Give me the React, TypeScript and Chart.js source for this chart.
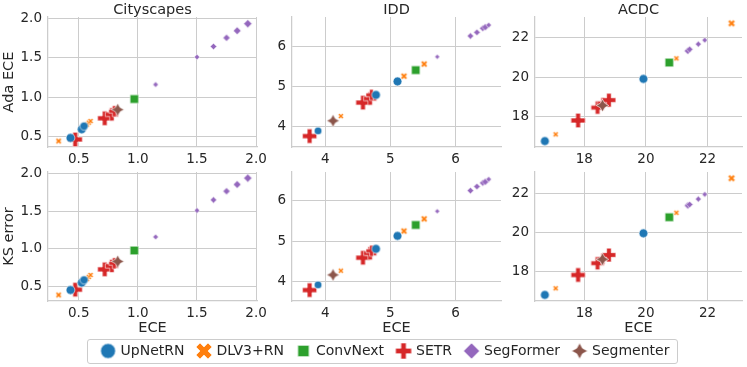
import React, { useEffect, useRef } from 'react';
import { Chart, registerables } from 'chart.js';

Chart.register(...registerables);

const FONT = '"DejaVu Sans", sans-serif';
const TEXT = '#262626';
const GRID = '#cccccc';
const MARKER_SCALE = 1.1;

const MODELS = ['UpNetRN', 'DLV3+RN', 'ConvNext', 'SETR', 'SegFormer', 'Segmenter'];
const COLORS = ['#1f77b4', '#ff7f0e', '#2ca02c', '#d62728', '#9467bd', '#8c564b'];
const SHAPES = ['o', 'X', 's', 'P', 'D', 'star'];

const DATASET_NAMES = ['Cityscapes', 'IDD', 'ACDC'];
const ROW_LABELS = ['Ada ECE', 'KS error'];
const X_LABEL = 'ECE';

// ---- Cityscapes ----
const cityModel = ['UpNetRN', 'UpNetRN', 'UpNetRN', 'DLV3+RN', 'DLV3+RN', 'DLV3+RN', 'DLV3+RN', 'ConvNext', 'SETR', 'SETR', 'SETR', 'SETR', 'SegFormer', 'SegFormer', 'SegFormer', 'SegFormer', 'SegFormer', 'SegFormer', 'Segmenter'];
const cityECE = [0.43, 0.525, 0.545, 0.33, 0.57, 0.585, 0.60, 0.97, 0.47, 0.72, 0.78, 0.80, 1.15, 1.50, 1.64, 1.75, 1.84, 1.93, 0.83];
const cityAda = [0.48, 0.59, 0.63, 0.44, 0.65, 0.675, 0.695, 0.975, 0.46, 0.73, 0.78, 0.82, 1.16, 1.51, 1.645, 1.755, 1.845, 1.935, 0.84];
const cityKS = [0.455, 0.553, 0.59, 0.39, 0.60, 0.63, 0.655, 0.98, 0.46, 0.73, 0.775, 0.81, 1.16, 1.51, 1.65, 1.765, 1.855, 1.94, 0.835];
const citySize = [8, 8, 7.5, 5.5, 5, 5, 5, 11, 13, 13, 12, 10, 5, 5, 6, 6.5, 7, 7.5, 11.5];

// ---- IDD ----
const iddModel = ['UpNetRN', 'UpNetRN', 'UpNetRN', 'DLV3+RN', 'DLV3+RN', 'DLV3+RN', 'ConvNext', 'SETR', 'SETR', 'SETR', 'SETR', 'SegFormer', 'SegFormer', 'SegFormer', 'SegFormer', 'SegFormer', 'SegFormer', 'Segmenter'];
const iddECE = [3.89, 4.78, 5.11, 4.24, 5.21, 5.52, 5.39, 3.76, 4.58, 4.69, 4.71, 5.72, 6.23, 6.33, 6.42, 6.46, 6.51, 4.12];
const iddAda = [3.90, 4.79, 5.125, 4.265, 5.255, 5.555, 5.405, 3.77, 4.60, 4.70, 4.79, 5.735, 6.25, 6.34, 6.44, 6.47, 6.52, 4.15];
const iddKS = [3.92, 4.81, 5.13, 4.27, 5.25, 5.55, 5.40, 3.79, 4.59, 4.70, 4.76, 5.74, 6.25, 6.35, 6.44, 6.47, 6.53, 4.165];
const iddSize = [7, 8, 8, 5, 6, 6, 11, 13, 13, 12, 10, 4.5, 6, 6, 6, 6.5, 5, 11.5];

// ---- ACDC ----
const acdcModel = ['UpNetRN', 'UpNetRN', 'DLV3+RN', 'DLV3+RN', 'DLV3+RN', 'ConvNext', 'SETR', 'SETR', 'SETR', 'SETR', 'SegFormer', 'SegFormer', 'SegFormer', 'SegFormer', 'Segmenter'];
const acdcECE = [16.72, 19.92, 17.07, 20.99, 22.78, 20.76, 17.80, 18.43, 18.60, 18.80, 21.36, 21.42, 21.70, 21.91, 18.59];
const acdcAda = [16.78, 19.92, 17.12, 20.96, 22.73, 20.75, 17.82, 18.47, 18.70, 18.85, 21.34, 21.42, 21.68, 21.88, 18.58];
const acdcKS = [16.81, 19.96, 17.15, 21.01, 22.77, 20.78, 17.83, 18.43, 18.66, 18.85, 21.38, 21.43, 21.71, 21.95, 18.63];
const acdcSize = [8, 8, 5, 5, 6.5, 11, 13, 12, 10, 12.5, 6.5, 6, 5.5, 5, 11.5];

// axis ranges and ticks
const X_RANGES = [[0.24, 2.008], [3.49, 6.70], [16.4, 23.12]];
const Y_RANGES_ADA = [[0.364, 2.02], [3.5, 6.72], [16.48, 23.05]];
const Y_RANGES_KS = [[0.31, 2.02], [3.52, 6.71], [16.5, 23.09]];
const TICK_STEPS = [0.5, 1, 2];
const TICK_DECIMALS = [1, 0, 0];

const PANELS = [
  { model: cityModel, ece: cityECE, ada: cityAda, ks: cityKS, size: citySize },
  { model: iddModel, ece: iddECE, ada: iddAda, ks: iddKS, size: iddSize },
  { model: acdcModel, ece: acdcECE, ada: acdcAda, ks: acdcKS, size: acdcSize },
];

// layout (pixels)
const COL_LEFT = [0, 262, 500];
const COL_W = [270, 250, 247];
const Y_AXIS_W = [48, 30, 35];
const COL_PAD_R = [13, 11, 2];
const ROW_TOP = [0, 160];
const ROW_H = [172, 180];
const ROW_PAD_T = [0, 12];
const X_AXIS_H = [25, 39];

const markerCache = new Map<string, HTMLCanvasElement>();
function marker(shape: string, size: number, color: string): HTMLCanvasElement {
  const key = shape + '|' + size + '|' + color;
  const hit = markerCache.get(key);
  if (hit) return hit;
  const d = size * MARKER_SCALE;
  const s = Math.ceil(d) + 4;
  const c = document.createElement('canvas');
  c.width = s;
  c.height = s;
  const g = c.getContext('2d')!;
  g.translate(s / 2, s / 2);
  const r = d / 2;
  g.beginPath();
  const poly = (pts: number[][]) => {
    pts.forEach(([x, y], i) => (i ? g.lineTo(x * r, y * r) : g.moveTo(x * r, y * r)));
    g.closePath();
  };
  if (shape === 'o') {
    g.arc(0, 0, r, 0, Math.PI * 2);
  } else if (shape === 's') {
    const h = r * Math.SQRT1_2;
    g.rect(-h, -h, 2 * h, 2 * h);
  } else if (shape === 'D') {
    poly([[0, -1], [1, 0], [0, 1], [-1, 0]]);
  } else if (shape === 'X') {
    const pts = [[-1, -2], [0, -1], [1, -2], [2, -1], [1, 0], [2, 1], [1, 2], [0, 1], [-1, 2], [-2, 1], [-1, 0], [-2, -1]];
    poly(pts.map(([x, y]) => [x / 2, y / 2]));
  } else if (shape === 'P') {
    const pts = [[-1, -3], [1, -3], [1, -1], [3, -1], [3, 1], [1, 1], [1, 3], [-1, 3], [-1, 1], [-3, 1], [-3, -1], [-1, -1]];
    poly(pts.map(([x, y]) => [x / 3, y / 3]));
  } else {
    const pts: number[][] = [];
    for (let k = 0; k < 8; k++) {
      const a = -Math.PI / 2 + (k * Math.PI) / 4;
      const rr = k % 2 === 0 ? 1 : 0.5;
      pts.push([Math.cos(a) * rr, Math.sin(a) * rr]);
    }
    poly(pts);
  }
  g.fillStyle = color;
  g.fill();
  g.lineWidth = 0.6;
  g.strokeStyle = '#ffffff';
  g.stroke();
  markerCache.set(key, c);
  return c;
}

function panelConfig(r: number, c: number): any {
  const p = PANELS[c];
  const ys = r === 0 ? p.ada : p.ks;
  const yr = r === 0 ? Y_RANGES_ADA[c] : Y_RANGES_KS[c];
  const datasets = MODELS.map((m, mi) => {
    const idx = p.model.map((mm, i) => (mm === m ? i : -1)).filter((i) => i >= 0);
    return {
      label: m,
      data: idx.map((i) => ({ x: p.ece[i], y: ys[i] })),
      pointStyle: idx.map((i) => marker(SHAPES[mi], p.size[i], COLORS[mi])),
      pointRadius: 4,
      backgroundColor: COLORS[mi],
      order: m === 'SETR' ? 1 : 0,
    };
  });
  const tickFont = { family: FONT, size: 13.5 };
  const labelFont = { family: FONT, size: 14.5 };
  const fmt = (v: any) => Number(v).toFixed(TICK_DECIMALS[c]);
  return {
    type: 'scatter',
    data: { datasets },
    options: {
      responsive: false,
      animation: false,
      events: [],
      layout: { padding: { top: ROW_PAD_T[r], right: COL_PAD_R[c], bottom: 0, left: 0 } },
      plugins: {
        legend: { display: false },
        tooltip: { enabled: false },
        title: {
          display: r === 0,
          fullSize: false,
          text: DATASET_NAMES[c],
          color: TEXT,
          font: { family: FONT, size: 14.5, weight: 'normal', lineHeight: '17px' },
          padding: { top: 2, bottom: -2 },
        },
      },
      scales: {
        x: {
          type: 'linear',
          min: X_RANGES[c][0],
          max: X_RANGES[c][1],
          ticks: { stepSize: TICK_STEPS[c], includeBounds: false, padding: 4, color: TEXT, font: tickFont, callback: fmt },
          grid: { color: GRID, lineWidth: 1, drawTicks: false },
          border: { color: GRID, width: 1.25 },
          title: { display: r === 1, text: X_LABEL, color: TEXT, font: labelFont, padding: { top: 0, bottom: 3 } },
          afterFit: (s: any) => {
            s.height = X_AXIS_H[r];
            s.paddingLeft = 0;
            s.paddingRight = 0;
          },
        },
        y: {
          type: 'linear',
          min: yr[0],
          max: yr[1],
          ticks: { stepSize: TICK_STEPS[c], includeBounds: false, padding: 6, color: TEXT, font: tickFont, callback: fmt },
          grid: { color: GRID, lineWidth: 1, drawTicks: false },
          border: { color: GRID, width: 1.25 },
          title: { display: c === 0, text: ROW_LABELS[r], color: TEXT, font: labelFont, padding: { top: 1, bottom: 0 } },
          afterFit: (s: any) => {
            s.width = Y_AXIS_W[c];
            s.paddingTop = 0;
            s.paddingBottom = 0;
          },
        },
      },
    },
  };
}

function legendConfig(): any {
  return {
    type: 'scatter',
    data: { datasets: MODELS.map((m) => ({ label: m, data: [] })) },
    options: {
      responsive: false,
      animation: false,
      events: [],
      layout: { padding: 0 },
      scales: { x: { display: false }, y: { display: false } },
      plugins: {
        tooltip: { enabled: false },
        legend: {
          display: true,
          position: 'top',
          labels: {
            usePointStyle: true,
            boxWidth: 11,
            boxHeight: 11,
            padding: 14,
            color: TEXT,
            font: { family: FONT, size: 14 },
            generateLabels: () =>
              MODELS.map((m, i) => ({
                text: m,
                pointStyle: marker(SHAPES[i], i === 0 ? 13.5 : 14.5, COLORS[i]),
                fillStyle: COLORS[i],
                strokeStyle: COLORS[i],
                lineWidth: 0,
                hidden: false,
                datasetIndex: i,
                fontColor: TEXT,
              })),
          },
        },
      },
    },
  };
}

export default function App() {
  const refs = useRef<(HTMLCanvasElement | null)[]>([]);
  const legendRef = useRef<HTMLCanvasElement | null>(null);

  useEffect(() => {
    Chart.defaults.font.family = FONT;
    const charts: Chart[] = [];
    for (let r = 0; r < 2; r++) {
      for (let c = 0; c < 3; c++) {
        const cv = refs.current[r * 3 + c];
        if (cv) charts.push(new Chart(cv, panelConfig(r, c)));
      }
    }
    if (legendRef.current) charts.push(new Chart(legendRef.current, legendConfig()));
    return () => charts.forEach((ch) => ch.destroy());
  }, []);

  const canvases: any[] = [];
  for (let r = 0; r < 2; r++) {
    for (let c = 0; c < 3; c++) {
      const k = r * 3 + c;
      canvases.push(
        <canvas
          key={k}
          ref={(el) => {
            refs.current[k] = el;
          }}
          width={COL_W[c]}
          height={ROW_H[r]}
          style={{ position: 'absolute', left: COL_LEFT[c], top: ROW_TOP[r], width: COL_W[c], height: ROW_H[r] }}
        />
      );
    }
  }

  return (
    <div style={{ position: 'absolute', left: 0, top: 0, width: 747, height: 367, background: '#ffffff', overflow: 'hidden' }}>
      {canvases}
      <div
        style={{
          position: 'absolute',
          left: 87,
          top: 339,
          width: 591,
          height: 25,
          boxSizing: 'border-box',
          border: '1px solid #cccccc',
          borderRadius: 3,
          background: 'rgba(255,255,255,0.8)',
        }}
      />
      <canvas
        ref={legendRef}
        width={600}
        height={100}
        style={{ position: 'absolute', left: 86, top: 330, width: 600, height: 100 }}
      />
    </div>
  );
}
